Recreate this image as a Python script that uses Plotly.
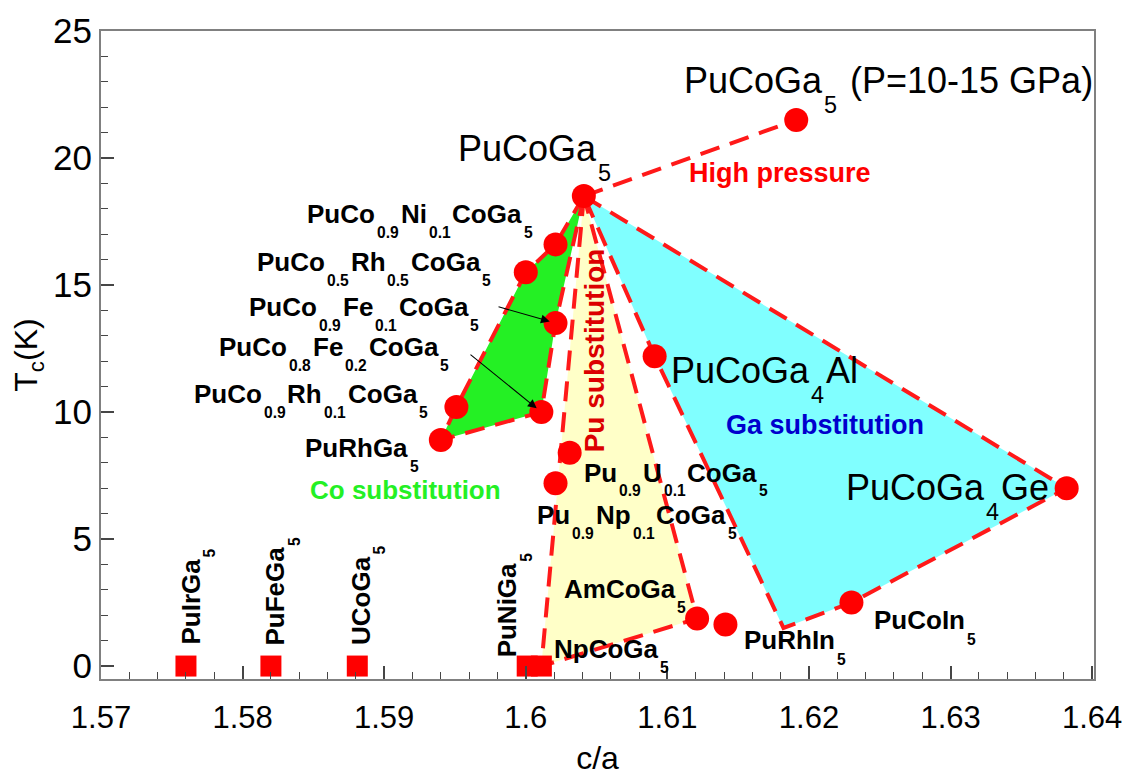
import plotly.graph_objects as go

# ---------------- data (c/a ratio, Tc in K) ----------------
apex_ca, apex_tc = 1.6041, 18.5            # PuCoGa5
hp_ca, hp_tc = 1.6191, 21.5                # PuCoGa5 under pressure

co_names = ["PuCo0.9Ni0.1CoGa5", "PuCo0.5Rh0.5CoGa5", "PuCo0.9Fe0.1CoGa5",
            "PuCo0.8Fe0.2CoGa5", "PuCo0.9Rh0.1CoGa5", "PuRhGa5"]
co_ca = [1.6021, 1.6000, 1.6021, 1.6011, 1.5951, 1.5940]
co_tc = [16.6, 15.5, 13.5, 10.0, 10.2, 8.9]

pu_names = ["Pu0.9U0.1CoGa5", "Pu0.9Np0.1CoGa5", "AmCoGa5"]
pu_ca = [1.6031, 1.6021, 1.6121]
pu_tc = [8.4, 7.2, 1.87]

ga_names = ["PuCoGa4Al", "PuCoGa4Ge", "PuCoIn5"]
ga_ca = [1.6091, 1.6382, 1.6230]
ga_tc = [12.2, 7.0, 2.5]
ga_corner_ca, ga_corner_tc = 1.6182, 1.5   # corner of the Ga-substitution region

other_names = ["PuRhIn5"]
other_ca = [1.6141]
other_tc = [1.64]

nonsc_names = ["PuIrGa5", "PuFeGa5", "UCoGa5", "PuNiGa5", "NpCoGa5"]
nonsc_ca = [1.5760, 1.5820, 1.5881, 1.6001, 1.6011]
nonsc_tc = [0, 0, 0, 0, 0]

x_ticks = [1.57, 1.58, 1.59, 1.60, 1.61, 1.62, 1.63, 1.64]
y_ticks = [0, 5, 10, 15, 20, 25]

# ---------------- styling ----------------
FONT = "Liberation Sans, Arial, sans-serif"
RED = "rgb(255,0,0)"
LINE_RED = "rgb(255,25,25)"
DASH = "20px,11px"

fig = go.Figure()

# Ga-substitution region (cyan)
cy_x = [apex_ca, ga_ca[1], ga_ca[2], ga_corner_ca, ga_ca[0], apex_ca]
cy_y = [apex_tc, ga_tc[1], ga_tc[2], ga_corner_tc, ga_tc[0], apex_tc]
fig.add_trace(go.Scatter(x=cy_x, y=cy_y, mode="lines", fill="toself",
                         fillcolor="rgb(128,255,255)",
                         line=dict(color=LINE_RED, width=4, dash=DASH),
                         hoverinfo="skip", showlegend=False))

# Pu-substitution region (light yellow)
ye_x = [apex_ca, nonsc_ca[4], pu_ca[2], apex_ca]
ye_y = [apex_tc, nonsc_tc[4], pu_tc[2], apex_tc]
fig.add_trace(go.Scatter(x=ye_x, y=ye_y, mode="lines", fill="toself",
                         fillcolor="rgb(255,255,200)",
                         line=dict(color=LINE_RED, width=4, dash=DASH),
                         hoverinfo="skip", showlegend=False))

# Co-substitution region (green)
gr_idx = [0, 1, 4, 5, 3, 2]
gr_x = [apex_ca] + [co_ca[i] for i in gr_idx] + [apex_ca]
gr_y = [apex_tc] + [co_tc[i] for i in gr_idx] + [apex_tc]
fig.add_trace(go.Scatter(x=gr_x, y=gr_y, mode="lines", fill="toself",
                         fillcolor="rgb(36,240,36)",
                         line=dict(color=LINE_RED, width=4, dash=DASH),
                         hoverinfo="skip", showlegend=False))

# high-pressure line
fig.add_trace(go.Scatter(x=[apex_ca, hp_ca], y=[apex_tc, hp_tc], mode="lines",
                         line=dict(color=LINE_RED, width=4, dash=DASH),
                         hoverinfo="skip", showlegend=False))

# superconductors (circles)
circ_x = [apex_ca, hp_ca] + co_ca + pu_ca + ga_ca + other_ca
circ_y = [apex_tc, hp_tc] + co_tc + pu_tc + ga_tc + other_tc
fig.add_trace(go.Scatter(x=circ_x, y=circ_y, mode="markers",
                         marker=dict(symbol="circle", size=24, color=RED,
                                     line=dict(width=0)),
                         showlegend=False))

# non-superconducting (squares)
fig.add_trace(go.Scatter(x=nonsc_ca, y=nonsc_tc, mode="markers",
                         marker=dict(symbol="square", size=21, color=RED,
                                     line=dict(width=0)),
                         showlegend=False))

# ---------------- text with low subscripts ----------------
REG_W = {' ': 278, '(': 333, ')': 333, '-': 333, '.': 278, '=': 584,
         'A': 667, 'C': 722, 'F': 611, 'G': 778, 'H': 722, 'I': 278, 'N': 722,
         'P': 667, 'R': 722, 'U': 722, 'a': 556, 'b': 556, 'e': 556, 'g': 556,
         'h': 556, 'i': 222, 'l': 222, 'm': 833, 'n': 556, 'o': 556, 'p': 556,
         'r': 333, 's': 500, 't': 278, 'u': 556}
BOLD_W = {' ': 278, '.': 278, 'A': 722, 'C': 722, 'F': 611, 'G': 778, 'H': 722,
          'I': 278, 'N': 722, 'P': 667, 'R': 722, 'U': 722, 'a': 556, 'b': 611,
          'e': 556, 'g': 611, 'h': 611, 'i': 278, 'l': 278, 'm': 889, 'n': 611,
          'o': 611, 'p': 611, 'r': 389, 's': 556, 't': 333, 'u': 611}


def text_w(s, bold):
    tab = BOLD_W if bold else REG_W
    return sum(tab.get(c, 556) for c in s) / 1000.0


def formula(x, y, parts, size, bold=True, color="black", angle=0,
            sub_ratio=0.6, drop=0.72, gap=2):
    cur = 0.0
    for txt, sub in parts:
        fs = size * sub_ratio if sub else size
        w = text_w(txt, bold) * fs
        t = "<b>%s</b>" % txt if bold else txt
        off = drop * size if sub else 0.0
        if angle == 0:
            fig.add_annotation(x=x, y=y, xref="x", yref="y", text=t,
                               showarrow=False, xanchor="left", yanchor="middle",
                               xshift=cur, yshift=-off, borderpad=0,
                               font=dict(size=fs, color=color, family=FONT))
        else:
            fig.add_annotation(x=x, y=y, xref="x", yref="y", text=t,
                               showarrow=False, textangle=-90,
                               xanchor="center", yanchor="bottom",
                               xshift=off, yshift=cur, borderpad=0,
                               font=dict(size=fs, color=color, family=FONT))
        cur += w + gap


B = 26   # bold label size
N = 36   # normal label size

formula(1.61110, 23.06, [("PuCoGa", 0), ("5", 1)], N, bold=False, sub_ratio=0.65, drop=0.68)
fig.add_annotation(x=1.61110, y=23.06, text="(P=10-15 GPa)", showarrow=False,
                   xanchor="left", yanchor="middle", xshift=166, borderpad=0,
                   font=dict(size=N, color="black", family=FONT))
formula(1.59514, 20.38, [("PuCoGa", 0), ("5", 1)], N, bold=False, sub_ratio=0.65, drop=0.68)
formula(1.61018, 11.64, [("PuCoGa", 0), ("4", 1), ("Al", 0)], N, bold=False, sub_ratio=0.65, drop=0.68)
formula(1.62254, 7.04, [("PuCoGa", 0), ("4", 1), ("Ge", 0)], N, bold=False, sub_ratio=0.65, drop=0.68)

formula(1.62452, 1.80, [("PuCoIn", 0), ("5", 1)], B)
formula(1.61534, 1.01, [("PuRhIn", 0), ("5", 1)], B)
formula(1.60192, 0.69, [("NpCoGa", 0), ("5", 1)], B)
formula(1.60263, 3.05, [("AmCoGa", 0), ("5", 1)], B)
formula(1.60404, 7.60, [("Pu", 0), ("0.9", 1), ("U", 0), ("0.1", 1), ("CoGa", 0), ("5", 1)], B, drop=0.68)
formula(1.60072, 5.95, [("Pu", 0), ("0.9", 1), ("Np", 0), ("0.1", 1), ("CoGa", 0), ("5", 1)], B)
formula(1.58434, 8.60, [("PuRhGa", 0), ("5", 1)], B)
formula(1.57648, 10.72, [("PuCo", 0), ("0.9", 1), ("Rh", 0), ("0.1", 1), ("CoGa", 0), ("5", 1)], B)
formula(1.57828, 12.56, [("PuCo", 0), ("0.8", 1), ("Fe", 0), ("0.2", 1), ("CoGa", 0), ("5", 1)], B)
formula(1.58040, 14.13, [("PuCo", 0), ("0.9", 1), ("Fe", 0), ("0.1", 1), ("CoGa", 0), ("5", 1)], B)
formula(1.58095, 15.91, [("PuCo", 0), ("0.5", 1), ("Rh", 0), ("0.5", 1), ("CoGa", 0), ("5", 1)], B)
formula(1.58448, 17.81, [("PuCo", 0), ("0.9", 1), ("Ni", 0), ("0.1", 1), ("CoGa", 0), ("5", 1)], B)

# rotated labels of the non-superconductors
formula(1.57636, 0.81, [("PuIrGa", 0), ("5", 1)], B, angle=-90)
formula(1.58229, 0.75, [("PuFeGa", 0), ("5", 1)], B, angle=-90)
formula(1.58836, 0.81, [("UCoGa", 0), ("5", 1)], B, angle=-90)
formula(1.59867, 0.30, [("PuNiGa", 0), ("5", 1)], B, angle=-90)

# region names
fig.add_annotation(x=1.61795, y=19.40, text="<b>High pressure</b>", showarrow=False,
                   font=dict(size=27, color="rgb(255,0,0)", family=FONT))
fig.add_annotation(x=1.62113, y=9.48, text="<b>Ga substitution</b>", showarrow=False,
                   font=dict(size=27, color="rgb(0,0,205)", family=FONT))
fig.add_annotation(x=1.59147, y=6.93, text="<b>Co substitution</b>", showarrow=False,
                   font=dict(size=26, color="rgb(36,240,36)", family=FONT))
fig.add_annotation(x=1.60482, y=12.43, text="<b>Pu substitution</b>", showarrow=False,
                   textangle=-90, font=dict(size=28, color="rgb(220,0,0)", family=FONT))

# arrows
fig.add_annotation(x=co_ca[2], y=co_tc[2], ax=1.59797, ay=14.16, xref="x", yref="y",
                   axref="x", ayref="y", text="", showarrow=True, arrowhead=2,
                   arrowsize=1.6, arrowwidth=1.1, arrowcolor="black", standoff=6)
fig.add_annotation(x=co_ca[3], y=co_tc[3], ax=1.59599, ay=12.31, xref="x", yref="y",
                   axref="x", ayref="y", text="", showarrow=True, arrowhead=2,
                   arrowsize=1.6, arrowwidth=1.1, arrowcolor="black", standoff=6)

# ---------------- axes & layout ----------------
axis_common = dict(showgrid=False, zeroline=False, showline=True, mirror=True,
                   linecolor="rgb(128,128,128)", linewidth=2, ticks="inside",
                   ticklen=13, tickwidth=1.5, tickcolor="rgb(70,70,70)",
                   automargin=False)

# the page body adds an 8px offset, so the figure is 8px smaller on each axis
fig.update_layout(
    width=1127, height=774,
    margin=dict(l=93, r=41, t=23, b=103),
    paper_bgcolor="white", plot_bgcolor="white",
    font=dict(family=FONT, color="black"),
    xaxis=dict(range=[1.57, 1.64013], tickvals=x_ticks,
               ticktext=[("%g" % v) for v in x_ticks],
               minor=dict(dtick=0.002, tick0=1.57, ticks="inside", ticklen=7,
                          tickwidth=1.2, tickcolor="rgb(70,70,70)"),
               tickfont=dict(size=31, family=FONT, color="black"),
               ticklabelstandoff=10,
               title=dict(text="c/a", font=dict(size=32, family=FONT), standoff=12),
               **axis_common),
    yaxis=dict(range=[-0.51, 25], tickvals=y_ticks,
               minor=dict(dtick=1, tick0=0, ticks="inside", ticklen=7,
                          tickwidth=1.2, tickcolor="rgb(70,70,70)"),
               tickfont=dict(size=35, family=FONT, color="black"),
               title=dict(text="T<sub>c</sub>(K)", font=dict(size=32, family=FONT), standoff=6),
               **axis_common),
)

fig.write_html("out.html")
